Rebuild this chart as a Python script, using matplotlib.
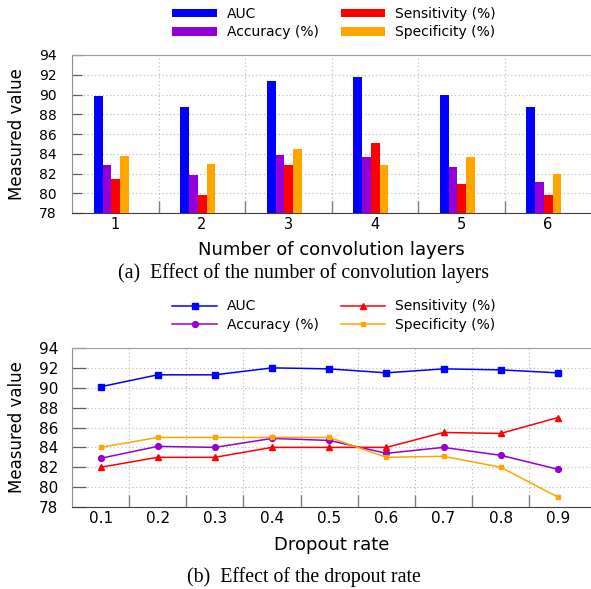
import numpy as np
import matplotlib.pyplot as plt
from matplotlib.ticker import FixedLocator, NullFormatter

# (a) number of convolution layers
layers = [1, 2, 3, 4, 5, 6]
auc_a = [89.8, 88.7, 91.4, 91.8, 89.9, 88.7]
acc_a = [82.9, 81.8, 83.9, 83.7, 82.7, 81.1]
sens_a = [81.4, 79.8, 82.9, 85.1, 80.9, 79.8]
spec_a = [83.8, 83.0, 84.5, 82.9, 83.7, 81.9]

# (b) dropout rate
dropout = [0.1, 0.2, 0.3, 0.4, 0.5, 0.6, 0.7, 0.8, 0.9]
auc_b = [90.1, 91.3, 91.3, 92.0, 91.9, 91.5, 91.9, 91.8, 91.5]
acc_b = [82.9, 84.1, 84.0, 84.9, 84.7, 83.4, 84.0, 83.2, 81.8]
sens_b = [82.0, 83.0, 83.0, 84.0, 84.0, 84.0, 85.5, 85.4, 87.0]
spec_b = [84.0, 85.0, 85.0, 85.0, 85.0, 83.0, 83.1, 82.0, 79.0]

names = ["AUC", "Accuracy (%)", "Sensitivity (%)", "Specificity (%)"]
colors = ["#0000ff", "#9400d3", "#ff0000", "#ffa500"]
yticks = list(range(78, 95, 2))

W, H = 591, 589
fig = plt.figure(figsize=(W / 100, H / 100), dpi=100)


def frame(ax, xcenters, ytick_len, ylab_size, ypad, xlab_size, xlabels):
    # major x ticks sit between the categories (marks + grid),
    # minor x ticks carry the labels
    bounds = [(a + b) / 2 for a, b in zip(xcenters[:-1], xcenters[1:])]
    ax.xaxis.set_major_locator(FixedLocator(bounds))
    ax.xaxis.set_major_formatter(NullFormatter())
    ax.xaxis.set_minor_locator(FixedLocator(xcenters))
    ax.set_xticklabels(xlabels, minor=True)
    ax.set_ylim(78, 94)
    ax.set_yticks(yticks)
    ax.spines["right"].set_visible(False)
    ax.spines["top"].set_color("#a0a0a0")
    ax.spines["left"].set_color("#909090")
    ax.spines["bottom"].set_color("#404040")
    ax.tick_params(axis="y", direction="in", length=ytick_len, width=0.9,
                   color="#606060", labelsize=ylab_size, pad=ypad)
    ax.tick_params(axis="x", which="minor", length=0, pad=3,
                   labelsize=xlab_size)
    ax.tick_params(axis="x", which="major", direction="in", length=9,
                   width=1.0, color="#808080")
    ax.grid(True, which="major", ls=(0, (1, 2)), color="#c0c0c0", lw=0.9)
    ax.set_axisbelow(True)
    ax.set_ylabel("Measured value", fontsize=12)
    ax.yaxis.set_label_coords(-0.088, 0.5)


# ---- top panel: grouped bars
ax1 = fig.add_axes([72 / W, 1 - 213 / H, (W - 72) / W, 158 / H])
series_a = [auc_a, acc_a, sens_a, spec_a]
bw = 0.101
x = np.array(layers)
for i, vals in enumerate(series_a):
    ax1.bar(x - 0.248 + i * bw, np.array(vals) - 78, bw, bottom=78,
            align="edge", color=colors[i], label=names[i], zorder=3)
ax1.set_xlim(0.5, 6.5)
frame(ax1, layers, 7, 10, 11, 10.5, [str(v) for v in layers])
ax1.set_xlabel("Number of convolution layers", fontsize=13)
ax1.xaxis.set_label_coords(0.5, -0.175)
h, l = ax1.get_legend_handles_labels()
fig.legend(h, l, ncol=2, loc="center", bbox_to_anchor=(334 / W, 1 - 23 / H),
           frameon=False, fontsize=10, handlelength=3.2, handleheight=0.6,
           handletextpad=0.7, columnspacing=1.6, labelspacing=0.3,
           borderpad=0)
fig.text(304 / W, 1 - 273 / H, "(a)  Effect of the number of convolution layers",
         ha="center", va="center", fontsize=14.3, family="Liberation Serif")

# ---- bottom panel: lines
ax2 = fig.add_axes([72 / W, 1 - 507 / H, (W - 72) / W, 159 / H])
series_b = [auc_b, acc_b, sens_b, spec_b]
markers = ["s", "o", "^", "s"]
msizes = [4.5, 4.2, 4.2, 3.5]
for i, vals in enumerate(series_b):
    ax2.plot(dropout, vals, color=colors[i], marker=markers[i],
             ms=msizes[i], lw=1.1, label=names[i], zorder=3)
ax2.set_xlim(0.05, 0.958)
frame(ax2, dropout, 10, 11, 10, 11, ["%.1f" % d for d in dropout])
ax2.set_xlabel("Dropout rate", fontsize=13)
ax2.xaxis.set_label_coords(0.5, -0.18)
h, l = ax2.get_legend_handles_labels()
fig.legend(h, l, ncol=2, loc="center", bbox_to_anchor=(334 / W, 1 - 315.5 / H),
           frameon=False, fontsize=10, handlelength=3.2,
           handletextpad=0.7, columnspacing=1.6, labelspacing=0.3,
           borderpad=0)
fig.text(304 / W, 1 - 577 / H, "(b)  Effect of the dropout rate",
         ha="center", va="center", fontsize=14.3, family="Liberation Serif")

fig.savefig("out.png", dpi=100)
